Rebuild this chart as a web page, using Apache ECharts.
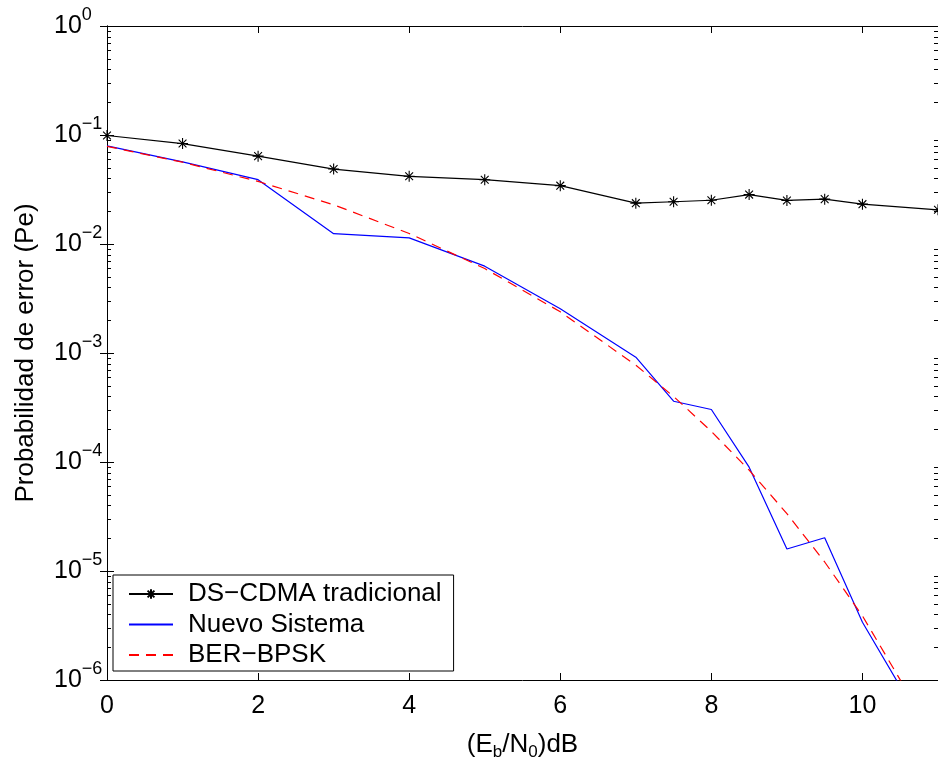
<!DOCTYPE html>
<html>
<head>
<meta charset="utf-8">
<script src="https://cdn.jsdelivr.net/npm/echarts@6/dist/echarts.min.js"></script>
<style>
html,body{margin:0;padding:0;background:#fff;}
#chart{width:938px;height:766px;}
</style>
</head>
<body>
<div id="chart"></div>
<script>
// ---- Data ----
const xDs = [0, 1, 2, 3, 4, 5, 6, 7, 7.5, 8, 8.5, 9, 9.5, 10, 11];
const dsCdma = [0.099, 0.0835, 0.064, 0.0487, 0.0418, 0.0389, 0.0343, 0.0237, 0.0244, 0.0252, 0.0284, 0.0251, 0.0258, 0.0232, 0.0206];

const xNuevo = [0, 1, 2, 3, 4, 5, 6, 7, 7.5, 8, 8.5, 9, 9.5, 10, 10.5];
const nuevo = [0.0794, 0.0567, 0.0389, 0.01244, 0.01137, 0.00626, 0.00255, 0.000916, 0.000361, 0.000303, 0.0000897, 0.0000159, 0.0000202, 0.00000339, 0.00000087];

const xBer = [0, 1, 2, 3, 4, 5, 6, 7, 7.5, 8, 8.5, 9, 9.5, 10, 11];
const berBpsk = [0.0786, 0.0563, 0.0375, 0.0229, 0.0125, 0.00595, 0.00239, 0.000773, 0.000399, 0.000191, 0.0000843, 0.0000336, 0.0000121, 0.00000387, 0.00000026];

const seriesNames = ['DS\u2212CDMA tradicional', 'Nuevo Sistema', 'BER\u2212BPSK'];
const decades = [1e-6, 1e-5, 1e-4, 1e-3, 1e-2, 1e-1];
const minorMultipliers = [2, 3, 4, 5, 6, 7, 8, 9];
const xLabelRich = '{n|(E}{sub|b}{n|/N}{sub|0}{n|)dB}';
const yLabelText = 'Probabilidad de error (Pe)';

// ---- Build ----
const FONT = 'Liberation Sans, Arial, Helvetica, sans-serif';
const zip = (xs, ys) => xs.map((x, i) => [x, ys[i]]);
const minorTicks = [];
decades.forEach(d => minorMultipliers.forEach(m => minorTicks.push([0, d * m])));

const chart = echarts.init(document.getElementById('chart'), null, {renderer: 'canvas'});

const axisLineStyle = {lineStyle: {color: '#000', width: 1}};
const asterisk = 'path://M0,-1L0,1M-1,0L1,0M-0.71,-0.71L0.71,0.71M-0.71,0.71L0.71,-0.71';

const option = {
  animation: false,
  backgroundColor: '#fff',
  textStyle: {fontFamily: FONT, color: '#000'},
  grid: {left: 107, top: 26, width: 833, height: 657, show: false, containLabel: false},
  legend: {
    data: [
      {name: seriesNames[0]},
      {name: seriesNames[1], itemStyle: {opacity: 0}},
      {name: seriesNames[2], itemStyle: {opacity: 0}}
    ],
    orient: 'vertical',
    left: 113,
    top: 575,
    itemWidth: 44,
    itemHeight: 12,
    itemGap: 0.5,
    padding: [4, 12, 1, 15],
    backgroundColor: '#fff',
    borderColor: '#000',
    borderWidth: 1,
    borderRadius: 0,
    textStyle: {fontFamily: FONT, fontSize: 26, color: '#000', lineHeight: 30, padding: [0, 0, 0, 10]}
  },
  xAxis: [
    {
      type: 'value', min: 0, max: 11, interval: 2, position: 'bottom',
      axisLine: axisLineStyle,
      axisTick: {inside: true, length: 7, lineStyle: {color: '#000', width: 1}},
      axisLabel: {color: '#000', fontSize: 25, fontFamily: FONT, margin: 14, showMaxLabel: false},
      splitLine: {show: false},
      name: xLabelRich,
      nameLocation: 'middle',
      nameGap: 48,
      nameTextStyle: {
        color: '#000', fontFamily: FONT,
        rich: {
          n: {fontSize: 26, lineHeight: 33, color: '#000', fontFamily: FONT},
          sub: {fontSize: 17, lineHeight: 18, verticalAlign: 'bottom', color: '#000', fontFamily: FONT}
        }
      }
    },
    {
      type: 'value', min: 0, max: 11, interval: 2, position: 'top',
      axisLine: axisLineStyle,
      axisTick: {inside: true, length: 7, lineStyle: {color: '#000', width: 1}},
      axisLabel: {show: false},
      splitLine: {show: false}
    }
  ],
  yAxis: [
    {
      type: 'log', logBase: 10, min: 1e-6, max: 1, position: 'left',
      axisLine: axisLineStyle,
      axisTick: {inside: true, length: 7, lineStyle: {color: '#000', width: 1}},
      axisLabel: {
        color: '#000', align: 'left', margin: 53,
        formatter: function (v) {
          const e = Math.round(Math.log10(v));
          return '{b|10}{s|' + (e < 0 ? '\u2212' + (-e) : String(e)) + '}';
        },
        rich: {
          b: {fontSize: 25, lineHeight: 40, color: '#000', fontFamily: FONT},
          s: {fontSize: 18, lineHeight: 18, verticalAlign: 'top', color: '#000', fontFamily: FONT}
        }
      },
      splitLine: {show: false},
      name: yLabelText,
      nameLocation: 'middle',
      nameGap: 68,
      nameTextStyle: {color: '#000', fontSize: 26, fontFamily: FONT, lineHeight: 26}
    },
    {
      type: 'log', logBase: 10, min: 1e-6, max: 1, position: 'right',
      axisLine: axisLineStyle,
      axisTick: {inside: true, length: 7, lineStyle: {color: '#000', width: 1}},
      axisLabel: {show: false},
      splitLine: {show: false}
    }
  ],
  series: [
    {
      type: 'custom',
      name: 'minorTicks',
      silent: true,
      clip: false,
      xAxisIndex: 0, yAxisIndex: 0,
      data: minorTicks,
      renderItem: function (params, api) {
        const p0 = api.coord([0, api.value(1)]);
        const p1 = api.coord([11, api.value(1)]);
        const y = Math.round(p0[1]) + 0.5;
        return {
          type: 'group',
          children: [
            {type: 'line', shape: {x1: p0[0], y1: y, x2: p0[0] + 4, y2: y}, style: {stroke: '#000', lineWidth: 1}},
            {type: 'line', shape: {x1: p1[0] - 4, y1: y, x2: p1[0], y2: y}, style: {stroke: '#000', lineWidth: 1}}
          ]
        };
      }
    },
    {
      name: seriesNames[0],
      type: 'line',
      data: zip(xDs, dsCdma),
      symbol: asterisk,
      symbolSize: 11,
      showSymbol: true,
      itemStyle: {color: 'rgba(0,0,0,0)', borderColor: '#000', borderWidth: 1.1},
      lineStyle: {color: '#000', width: 1.2},
      z: 3
    },
    {
      name: seriesNames[1],
      type: 'line',
      data: zip(xNuevo, nuevo),
      showSymbol: false,
      symbol: 'none',
      itemStyle: {color: '#0000ff'},
      lineStyle: {color: '#0000ff', width: 1.2},
      z: 4
    },
    {
      name: seriesNames[2],
      type: 'line',
      data: zip(xBer, berBpsk),
      showSymbol: false,
      symbol: 'none',
      itemStyle: {color: '#ff0000'},
      lineStyle: {color: '#ff0000', width: 1.2, type: [10, 7]},
      z: 5
    }
  ]
};
chart.setOption(option);
</script>
</body>
</html>
